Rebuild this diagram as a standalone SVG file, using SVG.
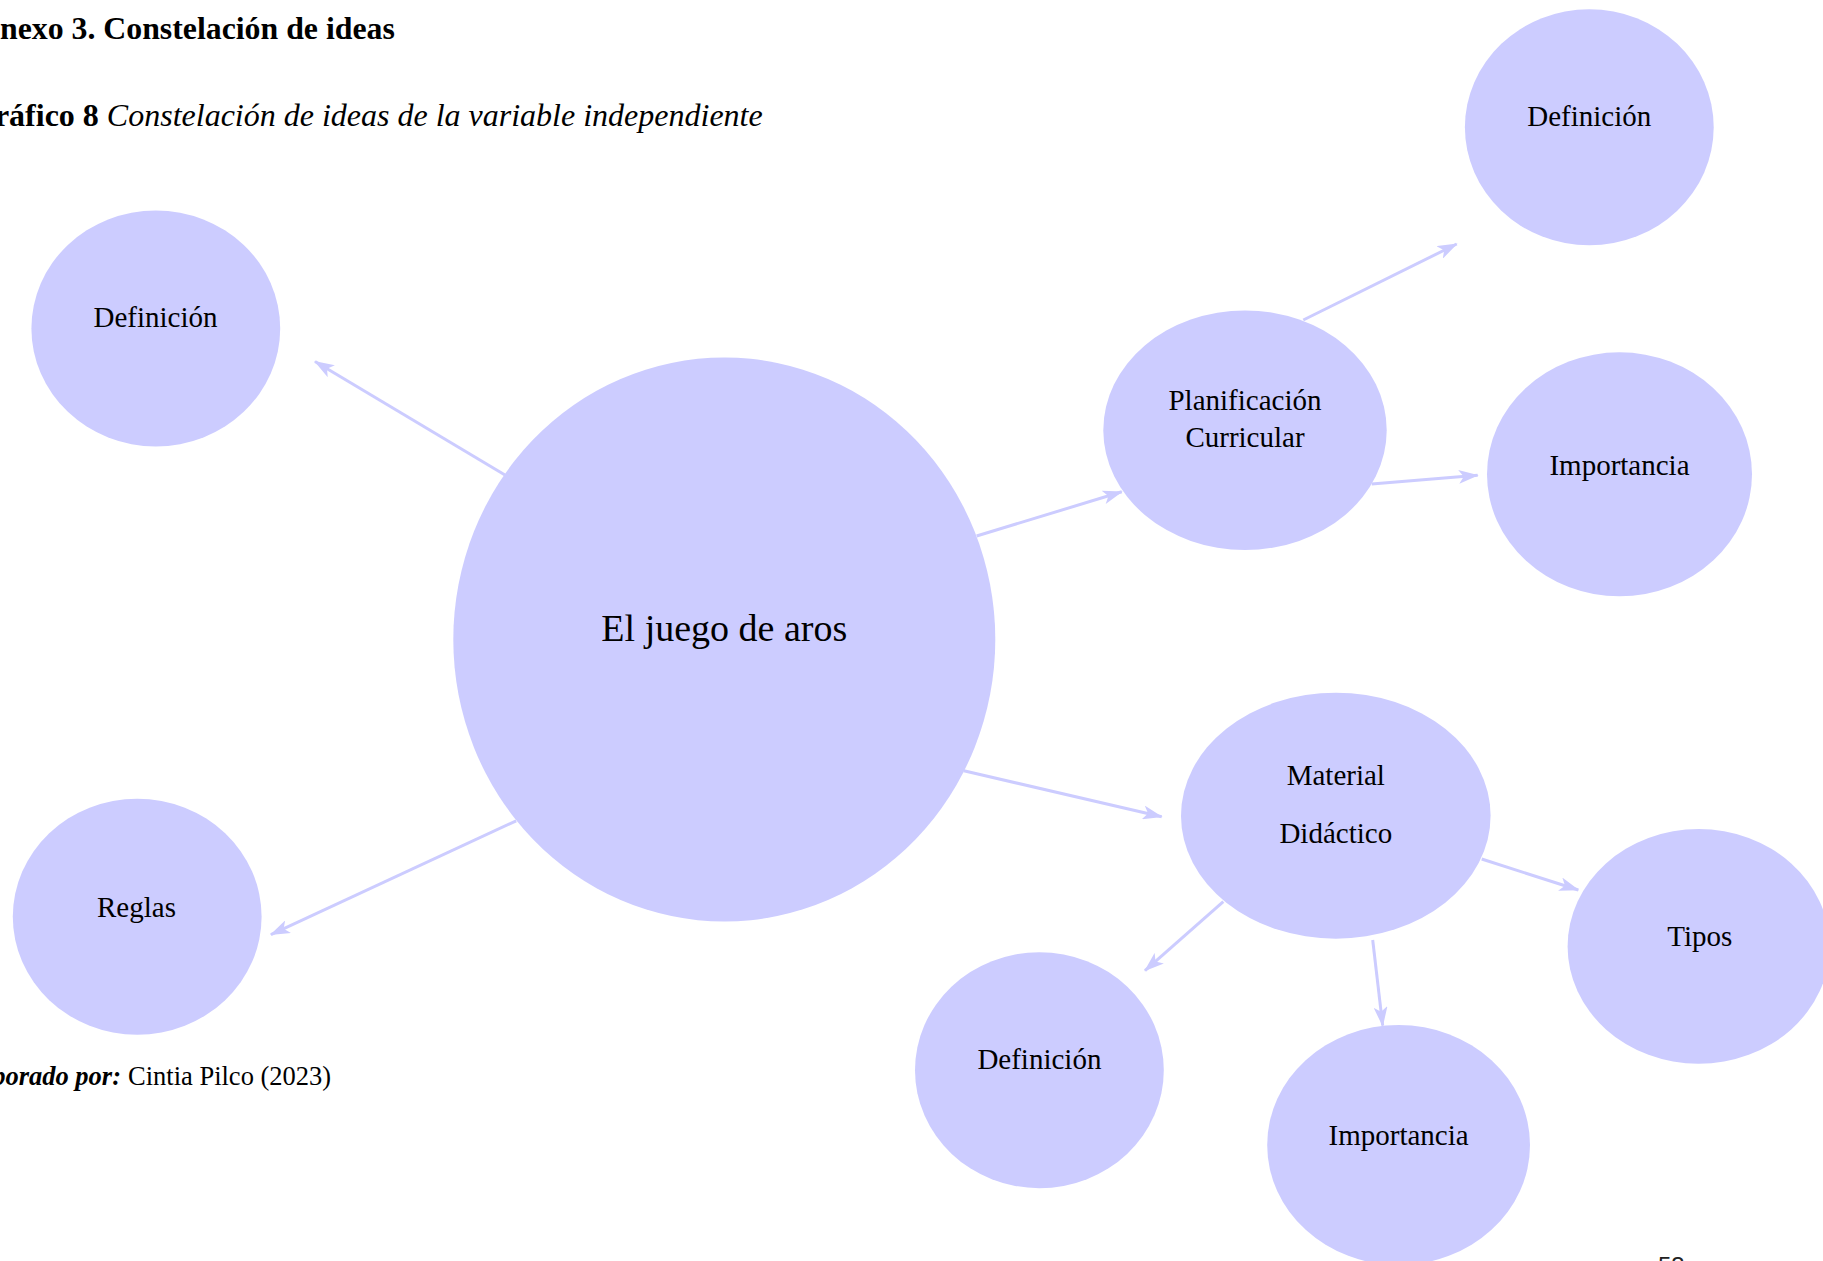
<svg xmlns="http://www.w3.org/2000/svg" width="1823" height="1261" viewBox="0 0 1823 1261">
<style>
.bg{fill:#ffffff}
.node{fill:#ccccff;stroke:none}
.lbl{font-family:"Liberation Serif","Times New Roman",serif;font-size:29px;fill:#000;text-anchor:middle}
.big{font-size:38px}
.conn line{stroke:#ccccff;stroke-width:3;marker-end:url(#ah)}
.hdr{font-family:"Liberation Serif","Times New Roman",serif;font-size:31.8px;fill:#000}
.sub{font-size:32px}
.foot{font-family:"Liberation Serif","Times New Roman",serif;font-size:26.5px;fill:#000}
.pg{font-family:"Liberation Sans",Arial,sans-serif;font-size:24px;fill:#222}
</style>
<defs>
<marker id="ah" viewBox="0 0 20 14" markerWidth="20" markerHeight="14" refX="19" refY="7" orient="auto" markerUnits="userSpaceOnUse">
<path d="M0,0 L20,7 L0,14 L5,7 Z" fill="#ccccff"/>
</marker>
</defs>
<rect class="bg" x="0" y="0" width="1823" height="1261"/>

<g id="header">
<text class="hdr" x="-23" y="39" font-weight="bold">Anexo 3. Constelación de ideas</text>
<text class="hdr sub" x="-30" y="125.5"><tspan font-weight="bold">Gráfico 8 </tspan><tspan font-style="italic">Constelación de ideas de la variable independiente</tspan></text>
</g>

<g id="connectors" class="conn">
<line x1="505" y1="475" x2="315" y2="361.5"/>
<line x1="976.6" y1="536" x2="1121.8" y2="491.8"/>
<line x1="1303.3" y1="320" x2="1456.7" y2="244"/>
<line x1="1371.7" y1="484" x2="1477.7" y2="475.3"/>
<line x1="963.8" y1="770.8" x2="1161.7" y2="816.7"/>
<line x1="1481.7" y1="859" x2="1578.3" y2="890"/>
<line x1="1223.3" y1="901.7" x2="1145" y2="970.7"/>
<line x1="1372.7" y1="940" x2="1382.7" y2="1025.7"/>
<line x1="516.2" y1="820.8" x2="270.9" y2="934.7"/>
</g>

<g id="n-central">
<ellipse class="node" cx="724.3" cy="639.5" rx="271" ry="282"/>
<text class="lbl big" x="724.3" y="641">El juego de aros</text>
</g>
<g id="n-definicion-1">
<ellipse class="node" cx="155.8" cy="328.4" rx="124.4" ry="118"/>
<text class="lbl" x="155.5" y="326.7">Definición</text>
</g>
<g id="n-reglas">
<ellipse class="node" cx="137.2" cy="916.7" rx="124.4" ry="118"/>
<text class="lbl" x="136.5" y="916.5">Reglas</text>
</g>
<g id="n-planificacion">
<ellipse class="node" cx="1245" cy="430.2" rx="141.7" ry="119.8"/>
<text class="lbl" x="1245" y="410">Planificación</text>
<text class="lbl" x="1245" y="446.7">Curricular</text>
</g>
<g id="n-definicion-2">
<ellipse class="node" cx="1589.3" cy="127.3" rx="124.4" ry="118"/>
<text class="lbl" x="1589.3" y="126">Definición</text>
</g>
<g id="n-importancia-1">
<ellipse class="node" cx="1619.5" cy="474.3" rx="132.5" ry="122"/>
<text class="lbl" x="1619.5" y="475">Importancia</text>
</g>
<g id="n-material">
<ellipse class="node" cx="1335.8" cy="815.7" rx="154.8" ry="123"/>
<text class="lbl" x="1335.8" y="785">Material</text>
<text class="lbl" x="1335.8" y="843.3">Didáctico</text>
</g>
<g id="n-tipos">
<ellipse class="node" cx="1698.6" cy="946.4" rx="131" ry="117.4"/>
<text class="lbl" x="1699.8" y="945.5">Tipos</text>
</g>
<g id="n-definicion-3">
<ellipse class="node" cx="1039.4" cy="1070.2" rx="124.4" ry="118"/>
<text class="lbl" x="1039.4" y="1069">Definición</text>
</g>
<g id="n-importancia-2">
<ellipse class="node" cx="1398.6" cy="1145" rx="131.4" ry="120"/>
<text class="lbl" x="1398.6" y="1144.5">Importancia</text>
</g>

<g id="footer">
<text class="foot" x="121" y="1085" text-anchor="end" font-weight="bold" font-style="italic">Elaborado por:</text>
<text class="foot" x="128" y="1085">Cintia Pilco (2023)</text>
<text class="pg" x="1658" y="1274">53</text>
</g>
</svg>
